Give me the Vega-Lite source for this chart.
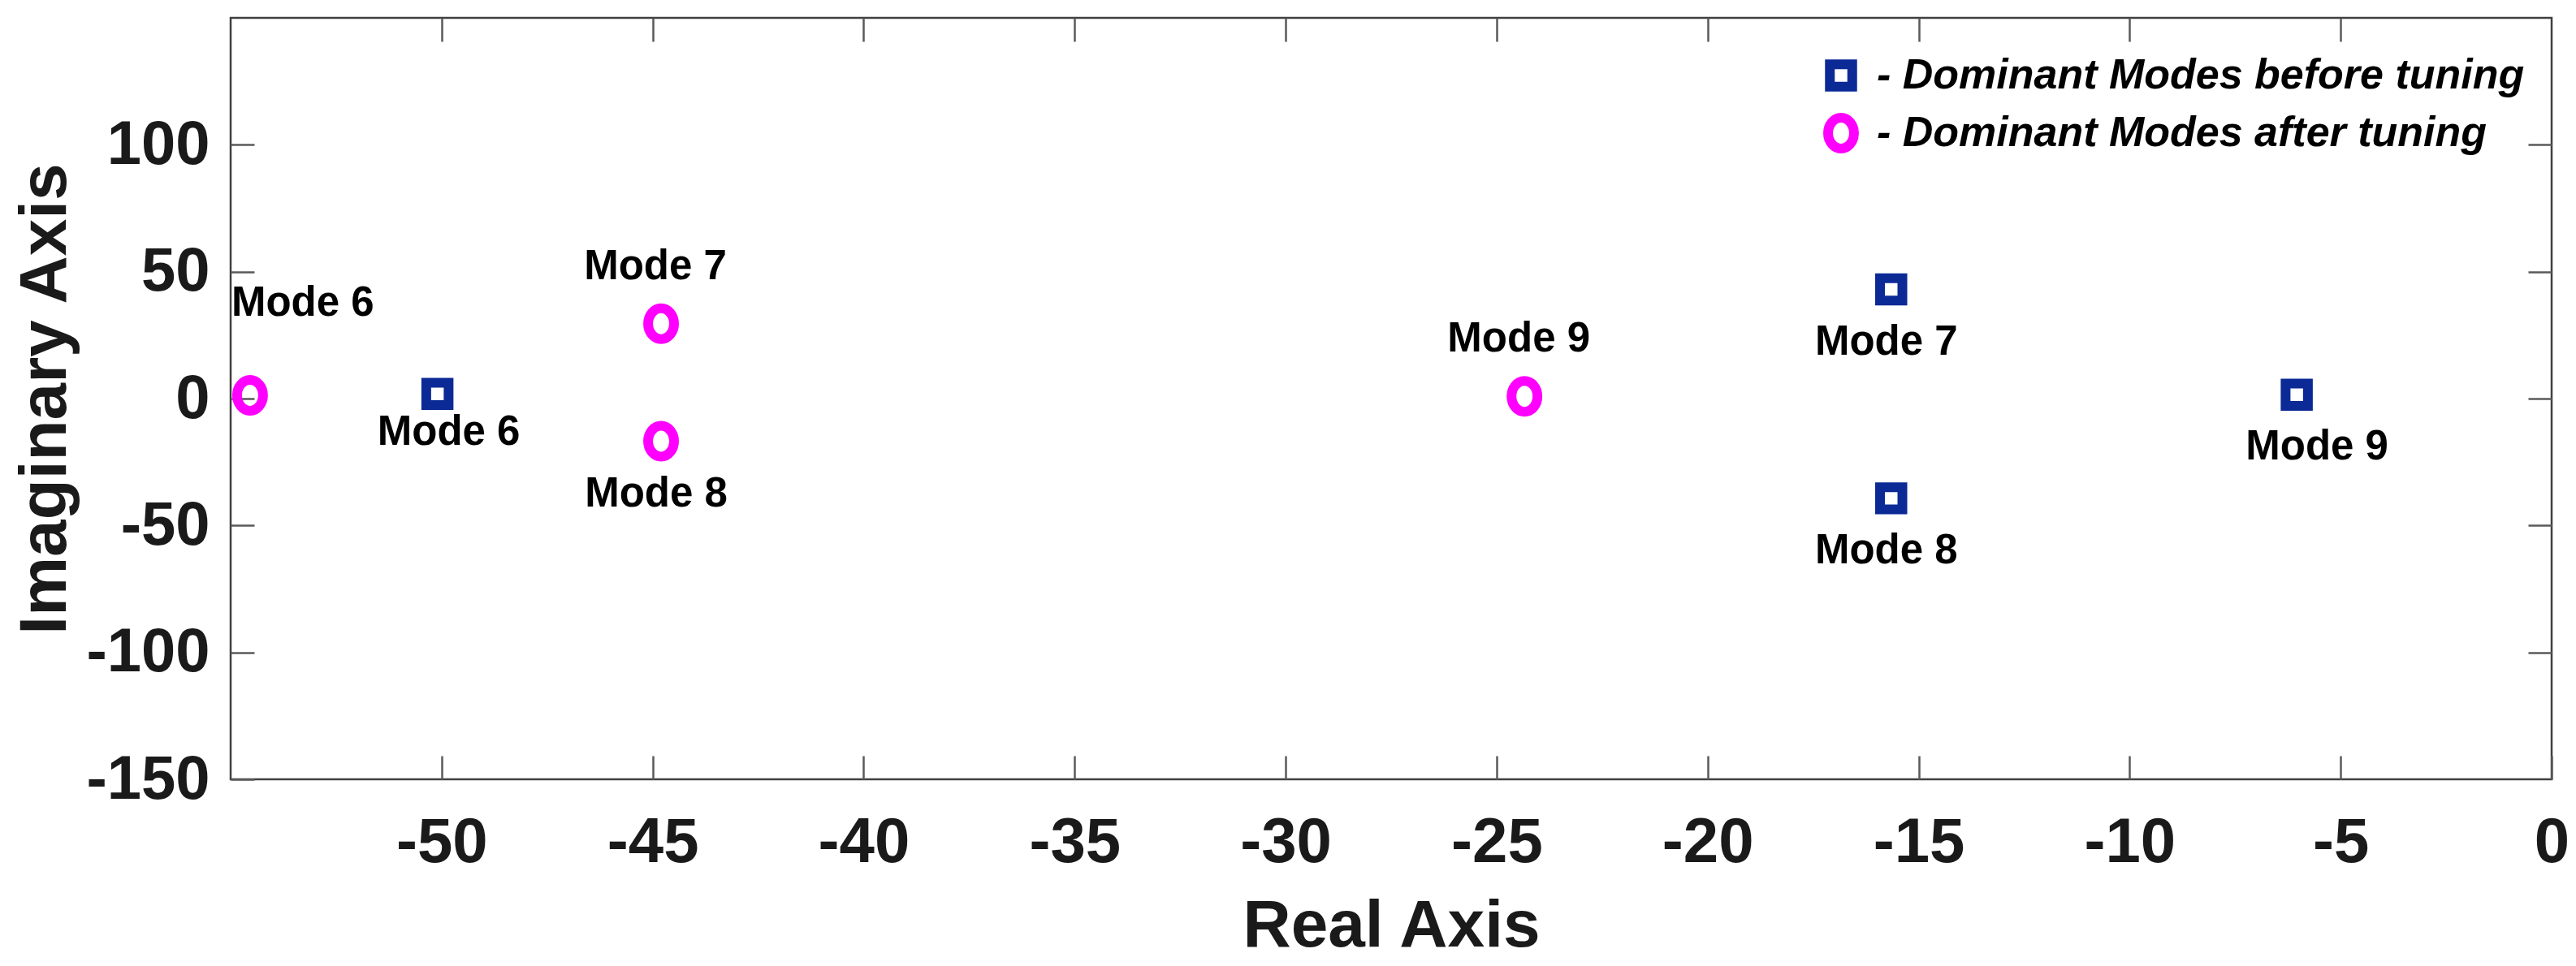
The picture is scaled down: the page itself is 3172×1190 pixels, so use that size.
{
  "$schema": "https://vega.github.io/schema/vega-lite/v6.json",
  "width": 2858,
  "height": 938,
  "autosize": {"type": "none"},
  "padding": {"left": 284, "top": 22, "right": 30, "bottom": 230},
  "background": "white",
  "config": {
    "view": {"stroke": "#404040", "strokeWidth": 2.5},
    "axis": {"grid": false, "domain": false, "tickColor": "#5a5a5a", "tickWidth": 2.5, "tickSize": -29}
  },
  "data": {
    "values": [
      {"series": "Dominant Modes before tuning", "mode": "Mode 6", "re": -50.1, "im": 1.8},
      {"series": "Dominant Modes before tuning", "mode": "Mode 7", "re": -15.65, "im": 43.0},
      {"series": "Dominant Modes before tuning", "mode": "Mode 8", "re": -15.65, "im": -39.3},
      {"series": "Dominant Modes before tuning", "mode": "Mode 9", "re": -6.04, "im": 1.5},
      {"series": "Dominant Modes after tuning", "mode": "Mode 6", "re": -54.54, "im": 1.3},
      {"series": "Dominant Modes after tuning", "mode": "Mode 7", "re": -44.8, "im": 29.5},
      {"series": "Dominant Modes after tuning", "mode": "Mode 8", "re": -44.8, "im": -16.8},
      {"series": "Dominant Modes after tuning", "mode": "Mode 9", "re": -24.34, "im": 0.9}
    ]
  },
  "resolve": {"axis": {"x": "independent", "y": "independent"}},
  "layer": [
    {
      "mark": {"type": "point", "opacity": 0},
      "encoding": {
        "x": {"field": "re", "type": "quantitative", "scale": {"domain": [-55, 0], "nice": false, "zero": false},
          "axis": {"orient": "top", "values": [-50, -45, -40, -35, -30, -25, -20, -15, -10, -5], "labels": false, "title": null}},
        "y": {"field": "im", "type": "quantitative", "scale": {"domain": [-150, 150], "nice": false, "zero": false},
          "axis": {"orient": "right", "values": [-100, -50, 0, 50, 100], "labels": false, "title": null}}
      }
    },
    {
      "transform": [{"filter": "datum.series == 'Dominant Modes after tuning' && (datum.mode == 'Mode 7' || datum.mode == 'Mode 9')"}],
      "mark": {"type": "text", "font": "Liberation Sans", "fontSize": 51, "fontWeight": "bold", "color": "#000000", "align": "center", "baseline": "alphabetic", "dx": -7, "dy": -55},
      "encoding": {
        "x": {"field": "re", "type": "quantitative", "axis": null},
        "y": {"field": "im", "type": "quantitative", "axis": null},
        "text": {"field": "mode"}
      }
    },
    {
      "transform": [{"filter": "datum.series == 'Dominant Modes after tuning' && datum.mode == 'Mode 6'"}],
      "mark": {"type": "text", "font": "Liberation Sans", "fontSize": 51, "fontWeight": "bold", "color": "#000000", "align": "left", "baseline": "alphabetic", "dx": -23, "dy": -98},
      "encoding": {
        "x": {"field": "re", "type": "quantitative", "axis": null},
        "y": {"field": "im", "type": "quantitative", "axis": null},
        "text": {"field": "mode"}
      }
    },
    {
      "transform": [{"filter": "(datum.series == 'Dominant Modes before tuning' && (datum.mode == 'Mode 7' || datum.mode == 'Mode 8')) || (datum.series == 'Dominant Modes after tuning' && datum.mode == 'Mode 8')"}],
      "mark": {"type": "text", "font": "Liberation Sans", "fontSize": 51, "fontWeight": "bold", "color": "#000000", "align": "center", "baseline": "alphabetic", "dx": -6, "dy": 80},
      "encoding": {
        "x": {"field": "re", "type": "quantitative", "axis": null},
        "y": {"field": "im", "type": "quantitative", "axis": null},
        "text": {"field": "mode"}
      }
    },
    {
      "transform": [{"filter": "datum.series == 'Dominant Modes before tuning' && datum.mode == 'Mode 9'"}],
      "mark": {"type": "text", "font": "Liberation Sans", "fontSize": 51, "fontWeight": "bold", "color": "#000000", "align": "center", "baseline": "alphabetic", "dx": 25, "dy": 80},
      "encoding": {
        "x": {"field": "re", "type": "quantitative", "axis": null},
        "y": {"field": "im", "type": "quantitative", "axis": null},
        "text": {"field": "mode"}
      }
    },
    {
      "transform": [{"filter": "datum.series == 'Dominant Modes before tuning' && datum.mode == 'Mode 6'"}],
      "mark": {"type": "text", "font": "Liberation Sans", "fontSize": 51, "fontWeight": "bold", "color": "#000000", "align": "center", "baseline": "alphabetic", "dx": 14, "dy": 63},
      "encoding": {
        "x": {"field": "re", "type": "quantitative", "axis": null},
        "y": {"field": "im", "type": "quantitative", "axis": null},
        "text": {"field": "mode"}
      }
    },
    {
      "mark": {"type": "point", "filled": false, "strokeWidth": 12, "opacity": 1},
      "encoding": {
        "x": {"field": "re", "type": "quantitative",
          "axis": {"orient": "bottom", "values": [-50, -45, -40, -35, -30, -25, -20, -15, -10, -5, 0],
            "labelExpr": "'' + datum.value",
            "labelFont": "Liberation Sans", "labelFontSize": 78, "labelFontWeight": "bold", "labelColor": "#1a1a1a",
            "labelPadding": 68, "labelOverlap": false, "labelFlush": false,
            "title": "Real Axis", "titleFont": "Liberation Sans", "titleFontSize": 82, "titleFontWeight": "bold", "titleColor": "#1a1a1a",
            "titleX": 1429, "titleY": 205, "titleBaseline": "alphabetic", "titleAlign": "center"}},
        "y": {"field": "im", "type": "quantitative",
          "axis": {"orient": "left", "values": [-150, -100, -50, 0, 50, 100],
            "labelExpr": "'' + datum.value",
            "labelFont": "Liberation Sans", "labelFontSize": 76, "labelFontWeight": "bold", "labelColor": "#1a1a1a",
            "labelPadding": 55, "labelOverlap": false, "labelFlush": false,
            "title": "Imaginary Axis", "titleFont": "Liberation Sans", "titleFontSize": 82, "titleFontWeight": "bold", "titleColor": "#1a1a1a",
            "titleX": -204, "titleY": 469, "titleAngle": -90, "titleBaseline": "alphabetic", "titleAlign": "center"}},
        "color": {"field": "series", "type": "nominal",
          "scale": {"domain": ["Dominant Modes before tuning", "Dominant Modes after tuning"], "range": ["#0B2A96", "#FF00FF"]},
          "legend": {"orient": "none", "legendX": 1957, "legendY": 45, "title": null, "labelExpr": "'- ' + datum.label",
            "labelFont": "Liberation Sans", "labelFontSize": 52, "labelFontStyle": "italic", "labelFontWeight": "bold", "labelColor": "#000000",
            "labelOffset": 18, "rowPadding": -10, "symbolStrokeWidth": 12, "labelLimit": 0}},
        "shape": {"field": "series", "type": "nominal",
          "scale": {"domain": ["Dominant Modes before tuning", "Dominant Modes after tuning"], "range": ["square", "M-0.84,0A0.84,1,0,1,0,0.84,0A0.84,1,0,1,0,-0.84,0Z"]}},
        "size": {"field": "series", "type": "nominal",
          "scale": {"domain": ["Dominant Modes before tuning", "Dominant Modes after tuning"], "range": [756, 1444]}}
      }
    }
  ]
}
